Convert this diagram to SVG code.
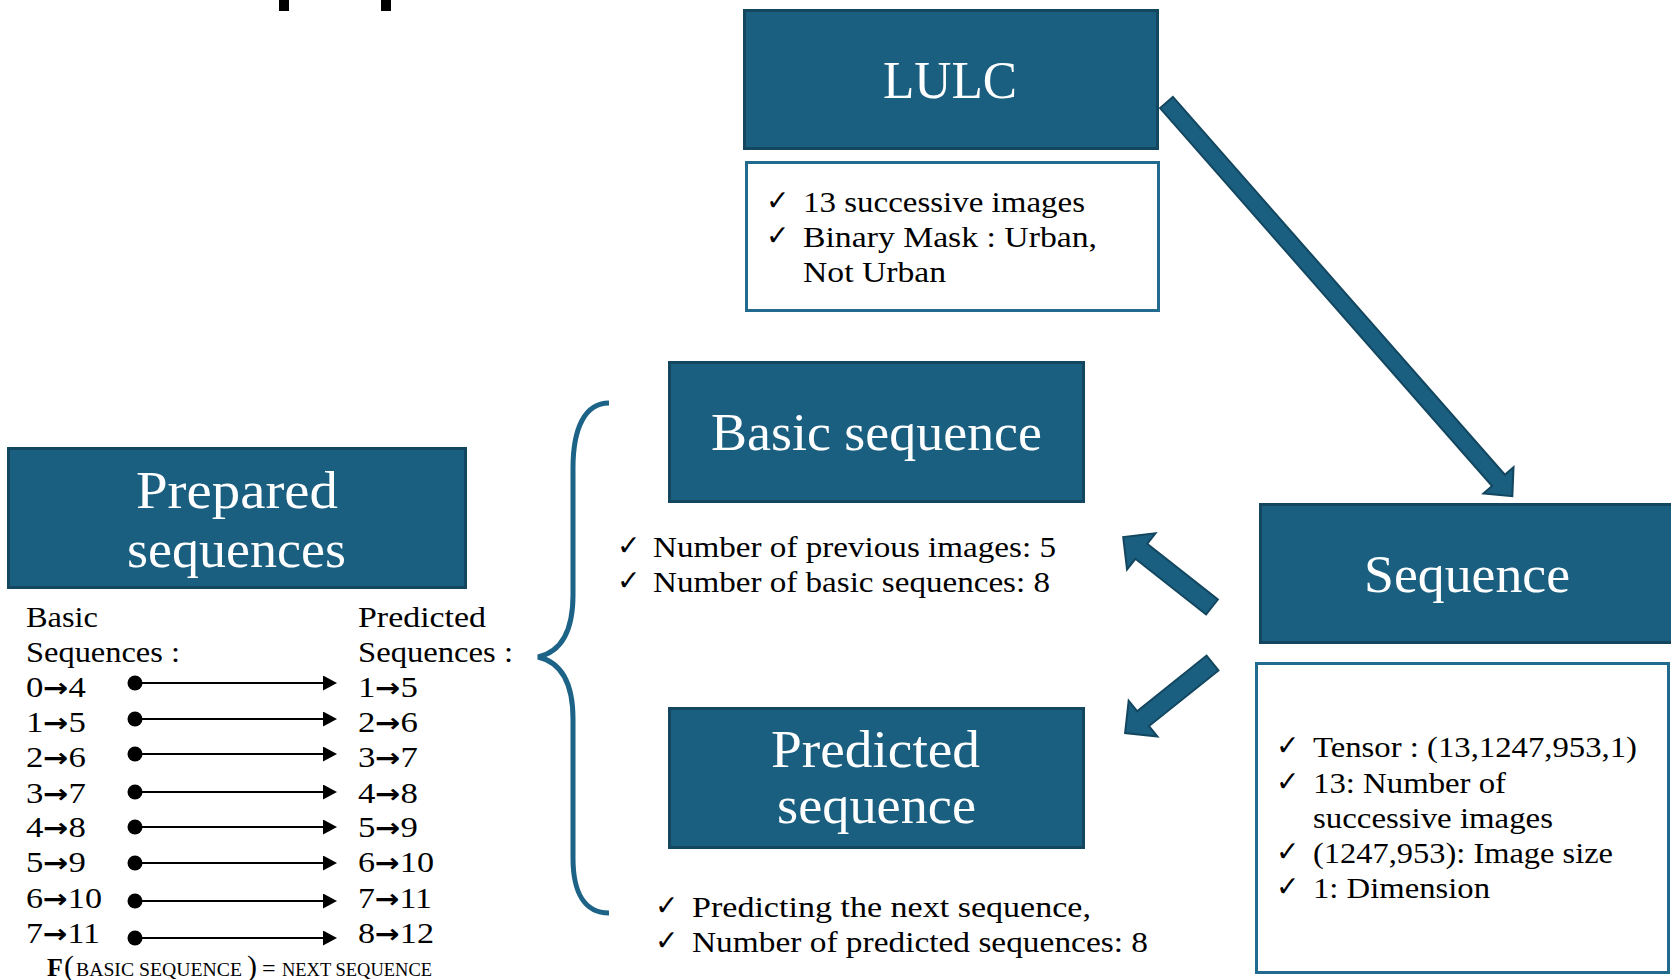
<svg xmlns="http://www.w3.org/2000/svg" width="1671" height="980" viewBox="0 0 1671 980">
<style>
.box{fill:#1a5f80;stroke:#134760;stroke-width:3}
.det{fill:#ffffff;stroke:#236b8e;stroke-width:3}
.title{font-family:"Liberation Serif","DejaVu Serif",serif;font-size:53px;fill:#ffffff;text-anchor:middle}
.t{font-family:"Liberation Serif","DejaVu Serif",serif;font-size:30px;fill:#000000}
.ar{font-family:"DejaVu Sans","Liberation Sans",sans-serif;font-weight:bold;font-size:26px}
.ck{font-family:"DejaVu Sans","Liberation Sans",sans-serif;font-size:28px;fill:#000000}
.blk{fill:#1a5f80;stroke:#134760;stroke-width:2;stroke-linejoin:miter}
.row{stroke:#000000;stroke-width:2;fill:none}
</style>
<defs>
<marker id="tri" viewBox="0 0 14 15" markerWidth="14" markerHeight="15" refX="0" refY="7.5" orient="auto" markerUnits="userSpaceOnUse">
<path d="M0,0 L14,7.5 L0,15 z" fill="#000000"/>
</marker>
<marker id="dot" viewBox="0 0 16 16" markerWidth="16" markerHeight="16" refX="8" refY="8" orient="auto" markerUnits="userSpaceOnUse">
<circle cx="8" cy="8" r="7.5" fill="#000000"/>
</marker>
</defs>
<rect width="1671" height="980" fill="#ffffff"/>
<rect x="279" y="0" width="10" height="11" fill="#000000"/>
<rect x="381" y="0" width="10" height="11" fill="#000000"/>

<g id="lulc">
<rect class="box" x="744.5" y="10.5" width="413" height="138"/>
<text class="title" x="950" y="98" textLength="134" lengthAdjust="spacingAndGlyphs">LULC</text>
</g>
<g id="lulc-details">
<rect class="det" x="746.5" y="162.5" width="412" height="148"/>
<text class="ck" x="766" y="210">✓</text>
<text class="t" x="803" y="212" textLength="282" lengthAdjust="spacingAndGlyphs">13 successive images</text>
<text class="ck" x="766" y="245">✓</text>
<text class="t" x="803" y="247" textLength="294" lengthAdjust="spacingAndGlyphs">Binary Mask : Urban,</text>
<text class="t" x="803" y="282" textLength="143" lengthAdjust="spacingAndGlyphs">Not Urban</text>
</g>

<g id="sequence">
<rect class="box" x="1260.5" y="504.5" width="420" height="138"/>
<text class="title" x="1467" y="592" textLength="206" lengthAdjust="spacingAndGlyphs">Sequence</text>
</g>
<g id="sequence-details">
<rect class="det" x="1256.5" y="663.5" width="412" height="309"/>
<text class="ck" x="1276" y="755">✓</text>
<text class="t" x="1313" y="757" textLength="324" lengthAdjust="spacingAndGlyphs">Tensor : (13,1247,953,1)</text>
<text class="ck" x="1276" y="791">✓</text>
<text class="t" x="1313" y="793" textLength="193" lengthAdjust="spacingAndGlyphs">13: Number of</text>
<text class="t" x="1313" y="828" textLength="240" lengthAdjust="spacingAndGlyphs">successive images</text>
<text class="ck" x="1276" y="861">✓</text>
<text class="t" x="1313" y="863" textLength="300" lengthAdjust="spacingAndGlyphs">(1247,953): Image size</text>
<text class="ck" x="1276" y="896">✓</text>
<text class="t" x="1313" y="898" textLength="177" lengthAdjust="spacingAndGlyphs">1: Dimension</text>
</g>

<g id="basic-sequence">
<rect class="box" x="669.5" y="362.5" width="414" height="139"/>
<text class="title" x="876.5" y="450" textLength="331" lengthAdjust="spacingAndGlyphs">Basic sequence</text>
</g>
<g id="basic-details">
<text class="ck" x="617" y="555">✓</text>
<text class="t" x="653" y="557" textLength="403" lengthAdjust="spacingAndGlyphs">Number of previous images: 5</text>
<text class="ck" x="617" y="590">✓</text>
<text class="t" x="653" y="592" textLength="397" lengthAdjust="spacingAndGlyphs">Number of basic sequences: 8</text>
</g>

<g id="predicted-sequence">
<rect class="box" x="669.5" y="708.5" width="414" height="139"/>
<text class="title" x="875.5" y="767" textLength="209" lengthAdjust="spacingAndGlyphs">Predicted</text>
<text class="title" x="876.5" y="823" textLength="199" lengthAdjust="spacingAndGlyphs">sequence</text>
</g>
<g id="predicted-details">
<text class="ck" x="655" y="915">✓</text>
<text class="t" x="692" y="917" textLength="399" lengthAdjust="spacingAndGlyphs">Predicting the next sequence,</text>
<text class="ck" x="655" y="950">✓</text>
<text class="t" x="692" y="952" textLength="456" lengthAdjust="spacingAndGlyphs">Number of predicted sequences: 8</text>
</g>

<g id="prepared-sequences">
<rect class="box" x="8.5" y="448.5" width="457" height="139"/>
<text class="title" x="237" y="508" textLength="202" lengthAdjust="spacingAndGlyphs">Prepared</text>
<text class="title" x="236.5" y="567" textLength="219" lengthAdjust="spacingAndGlyphs">sequences</text>
</g>
<g id="prepared-list">
<text class="t" x="26" y="627" textLength="72" lengthAdjust="spacingAndGlyphs">Basic</text>
<text class="t" x="26" y="662" textLength="154" lengthAdjust="spacingAndGlyphs">Sequences :</text>
<text class="t" x="358" y="627" textLength="128" lengthAdjust="spacingAndGlyphs">Predicted</text>
<text class="t" x="358" y="662" textLength="155" lengthAdjust="spacingAndGlyphs">Sequences :</text>
<text class="t" x="26" y="697" textLength="60" lengthAdjust="spacingAndGlyphs">0<tspan class="ar">→</tspan>4</text>
<text class="t" x="26" y="732" textLength="60" lengthAdjust="spacingAndGlyphs">1<tspan class="ar">→</tspan>5</text>
<text class="t" x="26" y="767" textLength="60" lengthAdjust="spacingAndGlyphs">2<tspan class="ar">→</tspan>6</text>
<text class="t" x="26" y="803" textLength="60" lengthAdjust="spacingAndGlyphs">3<tspan class="ar">→</tspan>7</text>
<text class="t" x="26" y="837" textLength="60" lengthAdjust="spacingAndGlyphs">4<tspan class="ar">→</tspan>8</text>
<text class="t" x="26" y="872" textLength="60" lengthAdjust="spacingAndGlyphs">5<tspan class="ar">→</tspan>9</text>
<text class="t" x="26" y="908" textLength="76" lengthAdjust="spacingAndGlyphs">6<tspan class="ar">→</tspan>10</text>
<text class="t" x="26" y="943" textLength="74" lengthAdjust="spacingAndGlyphs">7<tspan class="ar">→</tspan>11</text>
<text class="t" x="358" y="697" textLength="60" lengthAdjust="spacingAndGlyphs">1<tspan class="ar">→</tspan>5</text>
<text class="t" x="358" y="732" textLength="60" lengthAdjust="spacingAndGlyphs">2<tspan class="ar">→</tspan>6</text>
<text class="t" x="358" y="767" textLength="60" lengthAdjust="spacingAndGlyphs">3<tspan class="ar">→</tspan>7</text>
<text class="t" x="358" y="803" textLength="60" lengthAdjust="spacingAndGlyphs">4<tspan class="ar">→</tspan>8</text>
<text class="t" x="358" y="837" textLength="60" lengthAdjust="spacingAndGlyphs">5<tspan class="ar">→</tspan>9</text>
<text class="t" x="358" y="872" textLength="76" lengthAdjust="spacingAndGlyphs">6<tspan class="ar">→</tspan>10</text>
<text class="t" x="358" y="908" textLength="74" lengthAdjust="spacingAndGlyphs">7<tspan class="ar">→</tspan>11</text>
<text class="t" x="358" y="943" textLength="76" lengthAdjust="spacingAndGlyphs">8<tspan class="ar">→</tspan>12</text>
<text font-family="'Liberation Serif','DejaVu Serif',serif" fill="#000000" y="976"><tspan x="47" font-size="26" font-weight="bold">F</tspan><tspan x="64" font-size="30">(</tspan><tspan x="76" font-size="19" textLength="166" lengthAdjust="spacingAndGlyphs">BASIC SEQUENCE</tspan><tspan x="247" font-size="30">)</tspan><tspan x="262" font-size="24">=</tspan><tspan x="282" font-size="19" textLength="150" lengthAdjust="spacingAndGlyphs">NEXT SEQUENCE</tspan></text>
</g>

<g id="connectors">
<polygon class="blk" points="0,-8.5 503,-8.5 503,-20 524,0 503,20 503,8.5 0,8.5" transform="translate(1166.5,102.5) rotate(48.7)"/>
<polygon class="blk" points="0,-9.5 90,-9.5 90,-23 113,0 90,23 90,9.5 0,9.5" transform="translate(1212,607) rotate(218.2)"/>
<polygon class="blk" points="0,-9.5 89,-9.5 89,-23 112,0 89,23 89,9.5 0,9.5" transform="translate(1212.5,663) rotate(141.3)"/>
<path d="M609,403 C585,403 573,428 573,468 L573,595 C573,632 560,652 538,657 C560,662 573,682 573,719 L573,858 C573,893 585,913 609,913" fill="none" stroke="#1c6387" stroke-width="5"/>
<line class="row" x1="135" y1="683" x2="323" y2="683" marker-start="url(#dot)" marker-end="url(#tri)"/>
<line class="row" x1="135" y1="719" x2="323" y2="719" marker-start="url(#dot)" marker-end="url(#tri)"/>
<line class="row" x1="135" y1="754" x2="323" y2="754" marker-start="url(#dot)" marker-end="url(#tri)"/>
<line class="row" x1="135" y1="792" x2="323" y2="792" marker-start="url(#dot)" marker-end="url(#tri)"/>
<line class="row" x1="135" y1="827" x2="323" y2="827" marker-start="url(#dot)" marker-end="url(#tri)"/>
<line class="row" x1="135" y1="863" x2="323" y2="863" marker-start="url(#dot)" marker-end="url(#tri)"/>
<line class="row" x1="135" y1="901" x2="323" y2="901" marker-start="url(#dot)" marker-end="url(#tri)"/>
<line class="row" x1="135" y1="938" x2="323" y2="938" marker-start="url(#dot)" marker-end="url(#tri)"/>
</g>
</svg>
